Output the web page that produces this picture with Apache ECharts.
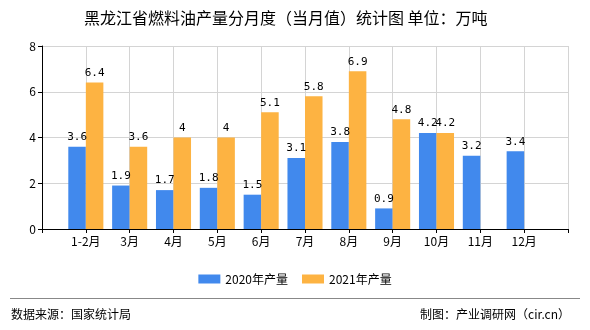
<!DOCTYPE html>
<html><head><meta charset="utf-8">
<script src="https://cdn.jsdelivr.net/npm/echarts@6/dist/echarts.min.js"></script>
<style>html,body{margin:0;padding:0;background:#fff}#c{width:590px;height:330px}</style>
</head><body><div id="c"></div>
<script>
const categories = ['', '1-2月', '3月', '4月', '5月', '6月', '7月', '8月', '9月', '10月', '11月', '12月', ''];
const s2020 = [null, 3.6, 1.9, 1.7, 1.8, 1.5, 3.1, 3.8, 0.9, 4.2, 3.2, 3.4, null];
const s2021 = [null, 6.4, 3.6, 4, 4, 5.1, 5.8, 6.9, 4.8, 4.2, null, null, null];
const yTicks = [0, 2, 4, 6, 8];

const font = '"Noto Sans CJK SC", sans-serif';
const chart = echarts.init(document.getElementById('c'), null, {renderer: 'canvas'});
const lbl = {show: true, position: 'top', color: '#000', fontSize: 11, fontFamily: 'DejaVu Sans Mono, monospace', distance: 4};
chart.setOption({
  animation: false,
  textStyle: {fontFamily: font},
  title: {text: '黑龙江省燃料油产量分月度（当月值）统计图 单位：万吨', left: 79, top: 5,
    textStyle: {fontSize: 16, fontWeight: 'normal', color: '#000', fontFamily: font}},
  legend: {top: 268, left: 'center', itemWidth: 22, itemHeight: 9, itemGap: 14,
    textStyle: {fontSize: 12, color: '#000', fontFamily: font},
    icon: 'rect', data: ['2020年产量', '2021年产量']},
  grid: {left: 42, right: 22, top: 46, bottom: 101},
  xAxis: {type: 'category', data: categories, boundaryGap: false,
    axisLine: {lineStyle: {color: '#000'}},
    axisTick: {show: true, length: 4, lineStyle: {color: '#000'}},
    axisLabel: {color: '#000', fontSize: 12, margin: 6, interval: 0},
    splitLine: {show: true, lineStyle: {color: '#d4d4d4'}}},
  yAxis: {type: 'value', min: yTicks[0], max: yTicks[yTicks.length - 1], interval: 2,
    axisLine: {show: true, lineStyle: {color: '#000'}},
    axisTick: {show: true, length: 4, lineStyle: {color: '#000'}},
    axisLabel: {color: '#000', fontSize: 12, margin: 6},
    splitLine: {show: true, lineStyle: {color: '#d4d4d4'}}},
  series: [
    {name: '2020年产量', type: 'bar', data: s2020, barGap: '0%', barCategoryGap: '20%',
      itemStyle: {color: '#4189ed'}, label: lbl},
    {name: '2021年产量', type: 'bar', data: s2021, barGap: '0%', barCategoryGap: '20%',
      itemStyle: {color: '#fdb342'}, label: lbl}
  ],
  graphic: [
    {type: 'line', shape: {x1: 10, y1: 298.5, x2: 580, y2: 298.5}, style: {stroke: '#888', lineWidth: 1}},
    {type: 'text', left: 11, top: 308, style: {text: '数据来源：国家统计局', fontSize: 12, fill: '#000', fontFamily: font}},
    {type: 'text', right: 20, top: 308, style: {text: '制图：产业调研网（cir.cn）', fontSize: 12, fill: '#000', fontFamily: font}}
  ]
});
</script></body></html>
